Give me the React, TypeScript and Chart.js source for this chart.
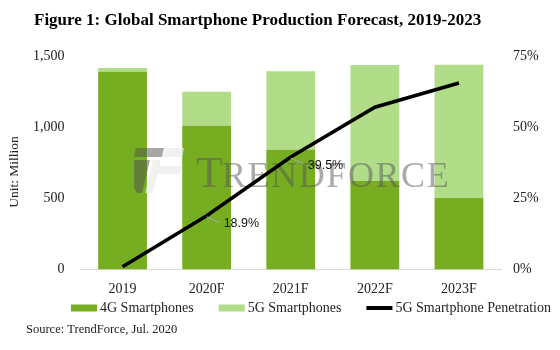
import React, { useEffect, useRef } from "react";
import { Chart, registerables } from "chart.js";

Chart.register(...registerables);

const categories = ["2019", "2020F", "2021F", "2022F", "2023F"];
const units4G = [1390, 1010, 842, 622, 503];
const units5G = [25, 238, 550, 815, 935];
const penetration5G = [1.0, 18.9, 39.5, 57.0, 65.5];
const labeledPointIndexes = [1, 2];
const unitMax = 1500;
const unitStep = 500;
const pctMax = 75;
const pctStep = 25;

const titleText = "Figure 1: Global Smartphone Production Forecast, 2019-2023";
const sourceText = "Source: TrendForce, Jul. 2020";
const yAxisTitle = "Unit: Million";
const seriesNames = ["4G Smartphones", "5G Smartphones", "5G Smartphone Penetration"];

const DARK = "#76AD21";
const LIGHT = "#B1DC88";
const SERIF = '"Liberation Serif", "Times New Roman", serif';
const SANS = '"Liberation Sans", Arial, sans-serif';
const TEXT = "#222";

function drawWatermark(ctx: CanvasRenderingContext2D) {
  ctx.save();
  // logo icon
  ctx.fillStyle = "rgba(80,80,80,0.5)";
  ctx.beginPath();
  ctx.moveTo(136, 148);
  ctx.lineTo(164, 148);
  ctx.lineTo(162, 157);
  ctx.lineTo(134, 157);
  ctx.closePath();
  ctx.fill();
  ctx.beginPath();
  ctx.moveTo(134, 160);
  ctx.lineTo(150, 160);
  ctx.lineTo(142, 193);
  ctx.lineTo(137, 193);
  ctx.lineTo(134, 188);
  ctx.closePath();
  ctx.fill();
  ctx.fillStyle = "rgba(235,235,235,0.7)";
  ctx.beginPath();
  ctx.moveTo(165, 148);
  ctx.lineTo(184, 148);
  ctx.lineTo(182, 157);
  ctx.lineTo(163, 157);
  ctx.closePath();
  ctx.fill();
  ctx.beginPath();
  ctx.moveTo(153, 160);
  ctx.lineTo(161, 160);
  ctx.lineTo(153, 193);
  ctx.lineTo(145, 193);
  ctx.closePath();
  ctx.fill();
  ctx.beginPath();
  ctx.moveTo(158, 166);
  ctx.lineTo(182, 166);
  ctx.lineTo(180, 174);
  ctx.lineTo(156, 174);
  ctx.closePath();
  ctx.fill();
  // text
  ctx.fillStyle = "rgba(85,85,85,0.5)";
  ctx.textBaseline = "alphabetic";
  ctx.textAlign = "left";
  ctx.font = `44px ${SERIF}`;
  ctx.fillText("T", 196, 187);
  const w = ctx.measureText("T").width;
  ctx.font = `36px ${SERIF}`;
  (ctx as any).letterSpacing = "1.6px";
  ctx.fillText("RENDFORCE", 196 + w - 1, 187);
  (ctx as any).letterSpacing = "0px";
  ctx.restore();
}

const decorPlugin = {
  id: "decor",
  beforeDatasetDraw(chart: any, args: any) {
    if (args.index !== 2) return;
    drawWatermark(chart.ctx);
  },
  afterDatasetsDraw(chart: any) {
    const ctx: CanvasRenderingContext2D = chart.ctx;
    const meta = chart.getDatasetMeta(2);
    ctx.save();
    labeledPointIndexes.forEach((i) => {
      const p = meta.data[i];
      ctx.strokeStyle = "#A6A6A6";
      ctx.lineWidth = 1;
      ctx.beginPath();
      ctx.moveTo(p.x, p.y + 1);
      ctx.lineTo(p.x + 13, p.y + 7);
      ctx.stroke();
      ctx.fillStyle = "#111";
      ctx.font = `12.5px ${SANS}`;
      ctx.textAlign = "left";
      ctx.textBaseline = "middle";
      ctx.fillText(penetration5G[i].toFixed(1) + "%", p.x + 17, p.y + 8);
    });
    ctx.restore();
  },
  afterDraw(chart: any) {
    const ctx: CanvasRenderingContext2D = chart.ctx;
    ctx.save();
    // title
    ctx.fillStyle = "#000";
    ctx.font = `bold 17px ${SERIF}`;
    ctx.textAlign = "left";
    ctx.textBaseline = "alphabetic";
    ctx.fillText(titleText, 34, 25);
    // source
    ctx.fillStyle = TEXT;
    ctx.font = `12.5px ${SERIF}`;
    ctx.textBaseline = "middle";
    ctx.fillText(sourceText, 26, 330);
    // y axis title
    ctx.save();
    ctx.translate(14, 172);
    ctx.rotate(-Math.PI / 2);
    ctx.textAlign = "center";
    ctx.font = `13.5px ${SERIF}`;
    ctx.fillText(yAxisTitle, 0, 0);
    ctx.restore();
    // legend
    ctx.font = `14px ${SERIF}`;
    ctx.textBaseline = "middle";
    ctx.textAlign = "left";
    const ly = 308;
    let x = 71;
    const kinds = [
      { color: DARK, line: false },
      { color: LIGHT, line: false },
      { color: "#000", line: true },
    ];
    kinds.forEach((k, i) => {
      ctx.fillStyle = k.color;
      if (k.line) {
        ctx.fillRect(x, ly - 2, 26, 4);
      } else {
        ctx.fillRect(x, ly - 3.5, 26, 7);
      }
      ctx.fillStyle = TEXT;
      const tx = x + 26 + 3;
      ctx.fillText(seriesNames[i], tx, ly);
      x = tx + ctx.measureText(seriesNames[i]).width + 25;
    });
    ctx.restore();
  },
};

export default function App() {
  const ref = useRef<HTMLCanvasElement | null>(null);
  useEffect(() => {
    document.body.style.margin = "0";
    const canvas = ref.current!;
    const tickFont = { family: SERIF, size: 14 };
    const chart = new Chart(canvas, {
      type: "bar",
      data: {
        labels: categories,
        datasets: [
          {
            type: "bar",
            label: seriesNames[0],
            data: units4G,
            backgroundColor: DARK,
            stack: "u",
            yAxisID: "y",
            order: 1,
            barPercentage: 0.58,
            categoryPercentage: 1,
          },
          {
            type: "bar",
            label: seriesNames[1],
            data: units5G,
            backgroundColor: LIGHT,
            stack: "u",
            yAxisID: "y",
            order: 1,
            barPercentage: 0.58,
            categoryPercentage: 1,
          },
          {
            type: "line",
            label: seriesNames[2],
            data: penetration5G,
            borderColor: "#000",
            borderWidth: 3.5,
            pointRadius: 0,
            tension: 0,
            yAxisID: "y1",
            order: 0,
            fill: false,
          } as any,
        ],
      },
      options: {
        responsive: false,
        animation: false,
        layout: { padding: { top: 56, left: 0, right: 0, bottom: 0 } },
        plugins: {
          legend: { display: false },
          title: { display: false },
          tooltip: { enabled: false },
        },
        scales: {
          x: {
            stacked: true,
            grid: { display: false, drawTicks: false },
            border: { display: true, color: "#D9D9D9", width: 1 },
            ticks: { font: tickFont, color: TEXT, padding: 11 },
            afterFit: (s: any) => {
              s.height = 80.5;
            },
          },
          y: {
            stacked: true,
            min: 0,
            max: unitMax,
            grid: { display: false, drawTicks: false },
            border: { display: false },
            ticks: {
              stepSize: unitStep,
              padding: 16,
              font: tickFont,
              color: TEXT,
              callback: (v: any) => Number(v).toLocaleString("en-US"),
            },
            afterFit: (s: any) => {
              s.width = 80.5;
            },
          },
          y1: {
            position: "right",
            min: 0,
            max: pctMax,
            grid: { display: false, drawTicks: false },
            border: { display: false },
            ticks: {
              stepSize: pctStep,
              padding: 12,
              font: tickFont,
              color: TEXT,
              callback: (v: any) => v + "%",
            },
            afterFit: (s: any) => {
              s.width = 59;
            },
          },
        },
      } as any,
      plugins: [decorPlugin as any],
    });
    return () => chart.destroy();
  }, []);
  return (
    <div style={{ position: "fixed", left: 0, top: 0, width: 560, height: 350, background: "#fff" }}>
      <canvas ref={ref} width={560} height={350} style={{ width: 560, height: 350, display: "block" }} />
    </div>
  );
}
